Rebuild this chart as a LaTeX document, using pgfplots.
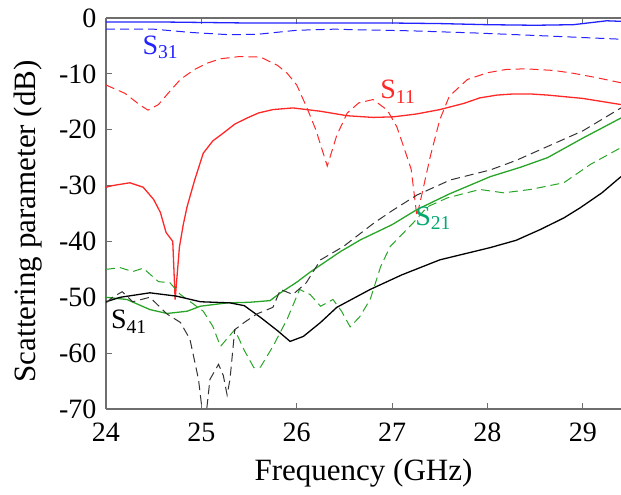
\documentclass[border=0pt]{standalone}
\usepackage{fontspec}
\setmainfont{Liberation Serif}
\usepackage{pgfplots}
\pgfplotsset{compat=1.18}
\definecolor{sblue}{RGB}{35,35,255}
\definecolor{sred}{RGB}{255,40,40}
\definecolor{sgreen}{RGB}{40,165,40}
\definecolor{slabgreen}{RGB}{0,170,110}
\definecolor{axgray}{RGB}{110,110,110}
\begin{document}
\fontsize{28}{32}\selectfont
\begin{tikzpicture}
\begin{axis}[
  scale only axis, width=515pt, height=391pt,
  xmin=24, xmax=29.4, ymin=-70, ymax=0,
  xtick={24,25,26,27,28,29}, xticklabels={24,25,26,27,28,29},
  ytick={-70,-60,-50,-40,-30,-20,-10,0},
  yticklabels={-70,-60,-50,-40,-30,-20,-10,0},
  axis x line=box, axis y line=left,
  axis line style={-, draw=axgray, line width=1.2pt},
  tick align=inside, major tick length=6pt,
  every tick/.style={axgray, line width=1pt},
  tick label style={font=\fontsize{28}{32}\selectfont, black},
  xticklabel style={yshift=-4pt},
  label style={font=\fontsize{31}{34}\selectfont, black},
  xlabel={Frequency (GHz)},
  ylabel={Scattering parameter (dB)},
  ylabel style={at={([xshift=-78pt]axis description cs:0,0.48)}, anchor=center},
  xlabel style={at={([yshift=-72pt]axis description cs:0.5,0)}, anchor=base},
  solid line/.style={line width=1.3pt},
  dash line/.style={line width=1pt, dash pattern=on 9pt off 5pt},
]
% S31
\addplot[sblue, solid line] coordinates {
(24.0,-0.7)(24.5,-0.7)(25.0,-0.8)(25.5,-0.9)(26.0,-0.9)(26.5,-0.9)(27.0,-0.9)
(27.5,-1.0)(28.0,-1.2)(28.5,-1.3)(28.9,-1.2)(29.1,-0.8)(29.25,-0.5)(29.4,-0.6)};
\addplot[sblue, dash line] coordinates {
(24.0,-2.0)(24.5,-2.0)(24.9,-2.6)(25.3,-3.0)(25.6,-2.9)(26.0,-2.2)(26.4,-2.0)
(26.6,-2.1)(27.2,-2.3)(27.9,-2.7)(28.6,-3.2)(29.4,-3.8)};
% S11
\addplot[sred, dash line] coordinates {
(24.0,-12.0)(24.2,-13.5)(24.35,-15.5)(24.44,-16.5)(24.55,-15.5)(24.65,-13.5)
(24.78,-11.0)(24.92,-9.3)(25.06,-8.1)(25.2,-7.3)(25.4,-6.9)(25.62,-7.0)(25.8,-8.5)
(25.9,-9.9)(26.0,-12.0)(26.1,-15.8)(26.2,-20)(26.32,-26.5)(26.42,-21)(26.53,-17)
(26.65,-15.2)(26.8,-14.6)(26.95,-16.5)(27.05,-19.5)(27.12,-23)(27.2,-27.1)
(27.26,-35.5)(27.33,-30.2)(27.4,-24.8)(27.5,-18.2)(27.6,-14)(27.79,-11)(28.0,-9.8)
(28.2,-9.2)(28.4,-9.1)(28.7,-9.4)(28.9,-9.9)(29.15,-10.7)(29.4,-11.6)};
\addplot[sred, solid line] coordinates {
(24.0,-30.3)(24.07,-30.0)(24.25,-29.5)(24.39,-30.3)(24.5,-32.5)(24.57,-34.8)
(24.63,-38.4)(24.70,-40.0)(24.725,-50.4)(24.77,-41)(24.81,-37)(24.85,-33.8)
(24.93,-29)(25.02,-24.2)(25.12,-22.0)(25.23,-20.6)(25.35,-19.0)(25.48,-17.9)
(25.6,-17.0)(25.75,-16.4)(25.96,-16.1)(26.25,-16.7)(26.53,-17.5)(26.8,-17.8)
(27.01,-17.7)(27.25,-17.2)(27.5,-16.4)(27.75,-15.3)(27.92,-14.3)(28.1,-13.8)
(28.27,-13.6)(28.45,-13.6)(28.63,-13.8)(29.0,-14.4)(29.4,-15.5)};
% S21
\addplot[sgreen, solid line] coordinates {
(24.0,-50.0)(24.22,-50.4)(24.46,-52.2)(24.64,-52.9)(24.85,-52.5)(24.99,-51.6)
(25.27,-51.0)(25.5,-50.9)(25.72,-50.6)(25.83,-49.2)(26.0,-47.3)(26.14,-45.5)
(26.46,-41.8)(26.67,-39.7)(27.0,-37)(27.26,-34.3)(27.6,-31.5)(28.03,-28.4)
(28.35,-26.7)(28.63,-25.0)(29.0,-21.5)(29.4,-17.9)};
\addplot[sgreen, dash line] coordinates {
(24.0,-45.0)(24.15,-44.7)(24.28,-45.4)(24.39,-44.8)(24.55,-47.2)(24.67,-47.4)
(24.78,-49.5)(25.02,-52.5)(25.12,-55.2)(25.2,-58.8)(25.35,-55.8)(25.45,-59.5)
(25.55,-62.6)(25.62,-62.5)(25.75,-58.8)(25.9,-53.9)(26.03,-48.6)(26.14,-49.5)
(26.25,-51.6)(26.38,-50.4)(26.47,-52.5)(26.56,-55.3)(26.66,-53.5)(26.77,-50.4)
(26.88,-44.5)(26.98,-40.9)(27.22,-36.7)(27.37,-33.8)(27.58,-32.2)(27.92,-30.7)
(28.17,-31.3)(28.45,-30.7)(28.8,-29.5)(29.08,-26.2)(29.4,-23.2)};
% S41
\addplot[black, solid line] coordinates {
(24.0,-50.8)(24.15,-50.0)(24.46,-49.2)(24.74,-49.8)(24.99,-50.8)(25.3,-51.0)
(25.45,-51.5)(25.62,-53.6)(25.8,-56.0)(25.93,-57.9)(26.07,-57.0)(26.25,-54.5)
(26.42,-51.8)(26.77,-48.6)(27.1,-46.0)(27.5,-43.3)(28.03,-41.1)(28.3,-39.8)
(28.55,-37.9)(28.8,-35.8)(28.97,-34.0)(29.2,-31.3)(29.4,-28.4)};
\addplot[black!80, dash line] coordinates {
(24.0,-51.0)(24.07,-50.0)(24.17,-49.0)(24.28,-50.8)(24.46,-50.0)(24.64,-53.0)
(24.78,-54.5)(24.88,-57.5)(24.97,-64.7)(25.01,-70.5)(25.05,-71)(25.09,-64.7)
(25.18,-62.0)(25.23,-64)(25.27,-67.5)(25.3,-64.7)(25.35,-55.8)(25.45,-54.5)
(25.58,-53.0)(25.75,-51.8)(25.83,-48.6)(25.96,-49.5)(26.1,-47.4)(26.25,-43.3)
(26.49,-40.9)(26.81,-36.7)(27.0,-34.5)(27.26,-31.7)(27.61,-29.0)(28.03,-27.2)
(28.3,-25.5)(28.63,-23.0)(29.0,-20.2)(29.4,-16.1)};
\node[sblue] at (axis cs:24.57,-5.2) {S\textsubscript{31}};
\node[sred] at (axis cs:27.06,-13.2) {S\textsubscript{11}};
\node[slabgreen] at (axis cs:27.43,-35.8) {S\textsubscript{21}};
\node[black] at (axis cs:24.24,-54.4) {S\textsubscript{41}};
\coordinate (bl) at (rel axis cs:0,0);
\coordinate (tr) at (rel axis cs:1,1);
\end{axis}
\pgfresetboundingbox
\path[use as bounding box] ([xshift=-106pt,yshift=-86pt]bl) rectangle ([yshift=18pt]tr);
\end{tikzpicture}
\end{document}
